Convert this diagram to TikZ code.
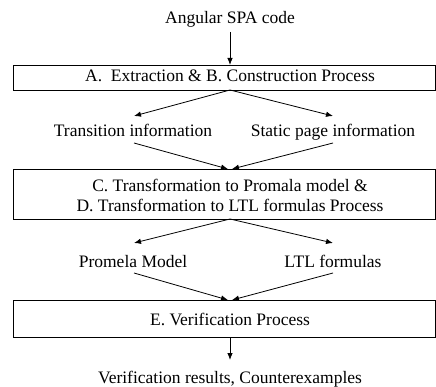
\documentclass[tikz,border=0pt]{standalone}
\usepackage{fontspec}
\setmainfont{Liberation Serif}
\usetikzlibrary{arrows.meta}
\begin{document}
\begin{tikzpicture}[x=1pt,y=-1pt,
  txt/.style={inner sep=0pt, anchor=base, font=\fontsize{17.5}{20}\selectfont, align=center},
  procbox/.style={draw, line width=0.8pt, inner sep=0pt},
  arr/.style={-{Latex[length=7pt,width=5.5pt]}, line width=0.8pt}]
\useasboundingbox (0,0) rectangle (436,387);
\node[txt] (src) at (230,24) {Angular SPA code};
\node[procbox, minimum width=422pt, minimum height=25pt] (b1) at (224,77.5) {};
\node[txt] (b1t) at (230,82) {A.\ \ Extraction \& B. Construction Process};
\node[txt] (ti) at (133,137) {Transition information};
\node[txt] (si) at (333,137) {Static page information};
\node[procbox, minimum width=422pt, minimum height=50pt] (b2) at (224,194) {};
\node[txt] (b2t1) at (230,192) {C. Transformation to Promala model \&};
\node[txt] (b2t2) at (230,212) {D. Transformation to LTL formulas Process};
\node[txt] (pm) at (133,267) {Promela Model};
\node[txt] (ltl) at (333,267) {LTL formulas};
\node[procbox, minimum width=422pt, minimum height=37pt] (b3) at (224,318.5) {};
\node[txt] (b3t) at (230,325) {E. Verification Process};
\node[txt] (res) at (230,383) {Verification results, Counterexamples};
\coordinate (b1tp) at (230,65);
\coordinate (b1b) at (230,90);
\coordinate (b2tp) at (230,169);
\coordinate (b2b) at (230,219);
\coordinate (b3tp) at (230,300);
\coordinate (b3b) at (230,337);
\draw[arr] ([yshift=-8pt]src.base) -- (b1tp);
\draw[arr] (b1b) -- (134,116);
\draw[arr] (b1b) -- (333,116);
\draw[arr] (134,143) -- ([xshift=-2pt]b2tp);
\draw[arr] (333,143) -- ([xshift=2pt]b2tp);
\draw[arr] (b2b) -- (134,243);
\draw[arr] (b2b) -- (333,243);
\draw[arr] (134,273) -- ([xshift=-2pt]b3tp);
\draw[arr] (333,273) -- ([xshift=2pt]b3tp);
\draw[arr] (b3b) -- (230,360);
\end{tikzpicture}
\end{document}
